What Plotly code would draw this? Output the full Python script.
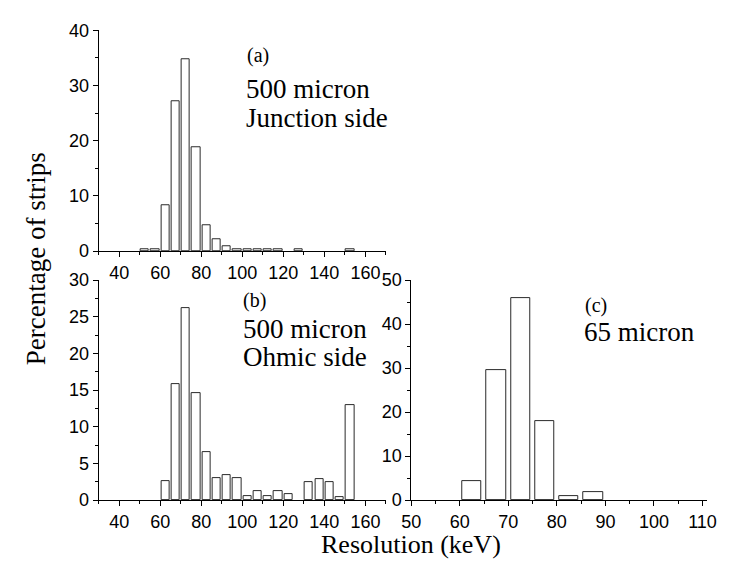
import plotly.graph_objects as go

W, H = 729, 566

# Panel (a): 500 micron, Junction side (bin centres in keV, percentage of strips)
a_bins = [52.5, 57.5, 62.5, 67.5, 72.5, 77.5, 82.5, 87.5, 92.5, 97.5, 102.5, 107.5, 112.5, 117.5, 127.5, 152.5]
a_vals = [0.4, 0.4, 8.4, 27.2, 34.7, 18.8, 4.65, 2.1, 0.85, 0.4, 0.4, 0.4, 0.4, 0.4, 0.4, 0.4]

# Panel (b): 500 micron, Ohmic side
b_bins = [62.5, 67.5, 72.5, 77.5, 82.5, 87.5, 92.5, 97.5, 102.5, 107.5, 112.5, 117.5, 122.5, 132.5, 137.5, 142.5, 147.5, 152.5]
b_vals = [2.6, 15.8, 26.2, 14.6, 6.6, 2.95, 3.35, 2.95, 0.5, 1.25, 0.5, 1.25, 0.85, 2.5, 2.9, 2.5, 0.45, 12.9]

# Panel (c): 65 micron
c_bins = [62.5, 67.5, 72.5, 77.5, 82.5, 87.5]
c_vals = [4.2, 29.5, 45.9, 18.0, 0.9, 1.7]

BAR_W = 4.0

fig = go.Figure()

def add_bars(xs, ys, xa, ya):
    fig.add_trace(go.Bar(
        x=xs, y=ys, width=BAR_W, xaxis=xa, yaxis=ya,
        marker=dict(color="white", line=dict(color="#2a2a2a", width=1)),
        showlegend=False, hoverinfo="x+y"))

add_bars(a_bins, a_vals, "x", "y")
add_bars(b_bins, b_vals, "x2", "y2")
add_bars(c_bins, c_vals, "x3", "y3")

def px_x(a, b):
    return [a / W, b / W]

def px_y(top, bottom):
    return [1 - bottom / H, 1 - top / H]

tickfont = dict(family="Arial, Liberation Sans, sans-serif", size=18, color="black")

def xaxis(dom, rng, dtick, minor, anchor, start):
    return dict(domain=dom, range=rng, anchor=anchor, showline=True, linecolor="black",
                linewidth=1, ticks="outside", ticklen=5, tickwidth=1, tickcolor="black",
                tick0=start, dtick=dtick, showgrid=False, zeroline=False, tickfont=tickfont,
                minor=dict(dtick=minor, tick0=start, ticks="outside", ticklen=3, tickcolor="black", showgrid=False))

def yaxis(dom, rng, dtick, minor, anchor):
    return dict(domain=dom, range=rng, anchor=anchor, showline=True, linecolor="black",
                linewidth=1, ticks="outside", ticklen=5, tickwidth=1, tickcolor="black",
                tick0=0, dtick=dtick, showgrid=False, zeroline=False, tickfont=tickfont,
                minor=dict(dtick=minor, tick0=0, ticks="outside", ticklen=3, tickcolor="black", showgrid=False))

fig.update_layout(
    width=W, height=H,
    margin=dict(l=0, r=0, t=0, b=0),
    paper_bgcolor="white", plot_bgcolor="white",
    bargap=0,
    xaxis=xaxis(px_x(91, 386), [30, 170], 20, 10, "y", 40),
    yaxis=yaxis(px_y(21, 250), [0, 40], 10, 5, "x"),
    xaxis2=xaxis(px_x(91, 386), [30, 170], 20, 10, "y2", 40),
    yaxis2=yaxis(px_y(280, 508), [0, 30], 5, 2.5, "x2"),
    xaxis3=xaxis(px_x(412, 716), [50, 111], 10, 5, "y3", 50),
    yaxis3=yaxis(px_y(280, 508), [0, 50], 10, 5, "x3"),
)

serif = "Times New Roman, Liberation Serif, serif"

def note(text, x, y, size):
    fig.add_annotation(text=text, x=x / W, y=1 - y / H, xref="paper", yref="paper",
                       xanchor="left", yanchor="middle", showarrow=False,
                       font=dict(family=serif, size=size, color="black"))

note("(a)", 241, 47, 20)
note("500 micron", 240, 82, 27)
note("Junction side", 240, 112, 27)
note("(b)", 237, 301, 20)
note("500 micron", 237, 331, 27)
note("Ohmic side", 237, 360, 27)
note("(c)", 588, 306, 20)
note("65 micron", 587, 334, 27)

fig.add_annotation(text="Resolution (keV)", x=412 / W, y=1 - 554 / H, xref="paper", yref="paper",
                   xanchor="center", yanchor="middle", showarrow=False, borderpad=0,
                   font=dict(family=serif, size=26, color="black"))
fig.add_annotation(text="Percentage of strips", x=27 / W, y=1 - 258 / H, xref="paper", yref="paper",
                   xanchor="center", yanchor="middle", showarrow=False, textangle=-90,
                   font=dict(family=serif, size=27, color="black"))

fig.write_html("out.html")
